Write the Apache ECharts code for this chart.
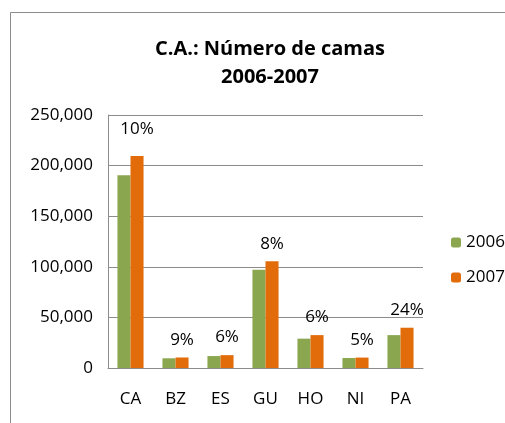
<!DOCTYPE html>
<html>
<head>
<meta charset="utf-8">
<script src="https://cdn.jsdelivr.net/npm/echarts@6/dist/echarts.min.js"></script>
<style>
  html, body { margin: 0; padding: 0; background: #fff; }
  #chart { width: 505px; height: 423px; }
</style>
</head>
<body>
<div id="chart"></div>
<script>
var paises = ['CA', 'BZ', 'ES', 'GU', 'HO', 'NI', 'PA'];
var camas2006 = [190500, 9600, 11800, 97000, 29000, 9900, 32500];
var camas2007 = [209500, 10400, 12700, 105500, 32500, 10300, 39800];
var crecimiento = ['10%', '9%', '6%', '8%', '6%', '5%', '24%'];
var yTicks = [0, 50000, 100000, 150000, 200000, 250000];

var fuente = '"Open Sans", "Noto Sans", sans-serif';

let myChart = echarts.init(document.getElementById('chart'));
let option = {
  animation: false,
  textStyle: { fontFamily: fuente },
  title: {
    text: 'C.A.: Número de camas\n2006-2007',
    left: 265,
    textAlign: 'center',
    top: 30,
    textStyle: {
      fontFamily: fuente,
      fontSize: 20,
      fontWeight: 'bold',
      color: '#000',
      lineHeight: 28
    }
  },
  graphic: [{
    type: 'rect',
    shape: { x: 10.5, y: 12.5, width: 520, height: 430 },
    style: { fill: 'none', stroke: '#8c8c8c', lineWidth: 1 },
    silent: true
  }],
  legend: {
    orient: 'vertical',
    left: 446,
    top: 229,
    itemWidth: 10,
    itemHeight: 10,
    itemGap: 18,
    textStyle: { fontFamily: fuente, fontSize: 17, color: '#000', padding: [0, 0, 0, 0] },
    data: ['2006', '2007']
  },
  grid: {
    left: 108,
    right: 82,
    top: 115,
    bottom: 55
  },
  xAxis: {
    type: 'category',
    data: paises,
    axisLine: { lineStyle: { color: '#8c8c8c', width: 1 } },
    axisTick: { show: false },
    axisLabel: { color: '#000', fontSize: 17, margin: 23, fontFamily: fuente }
  },
  yAxis: {
    type: 'value',
    min: yTicks[0],
    max: yTicks[yTicks.length - 1],
    interval: yTicks[1] - yTicks[0],
    axisLine: { show: true, lineStyle: { color: '#8c8c8c', width: 1 } },
    axisTick: { show: false },
    splitLine: { lineStyle: { color: '#8c8c8c', width: 1 } },
    axisLabel: {
      color: '#000',
      fontSize: 17,
      margin: 15,
      fontFamily: fuente,
      formatter: function (v) { return v.toLocaleString('en-US'); }
    }
  },
  series: [{
    name: '2006',
    type: 'bar',
    data: camas2006,
    barGap: '0%',
    barCategoryGap: '42%',
    itemStyle: { color: '#8aa64f' }
  }, {
    name: '2007',
    type: 'bar',
    data: camas2007.map(function (v, i) {
      return {
        value: v,
        label: { distance: i === 0 ? 18 : 9 }
      };
    }),
    itemStyle: { color: '#e36c0a' },
    label: {
      show: true,
      position: 'top',
      color: '#000',
      fontSize: 17,
      fontFamily: fuente,
      formatter: function (p) { return crecimiento[p.dataIndex]; }
    }
  }]
};
myChart.setOption(option);
</script>
</body>
</html>
